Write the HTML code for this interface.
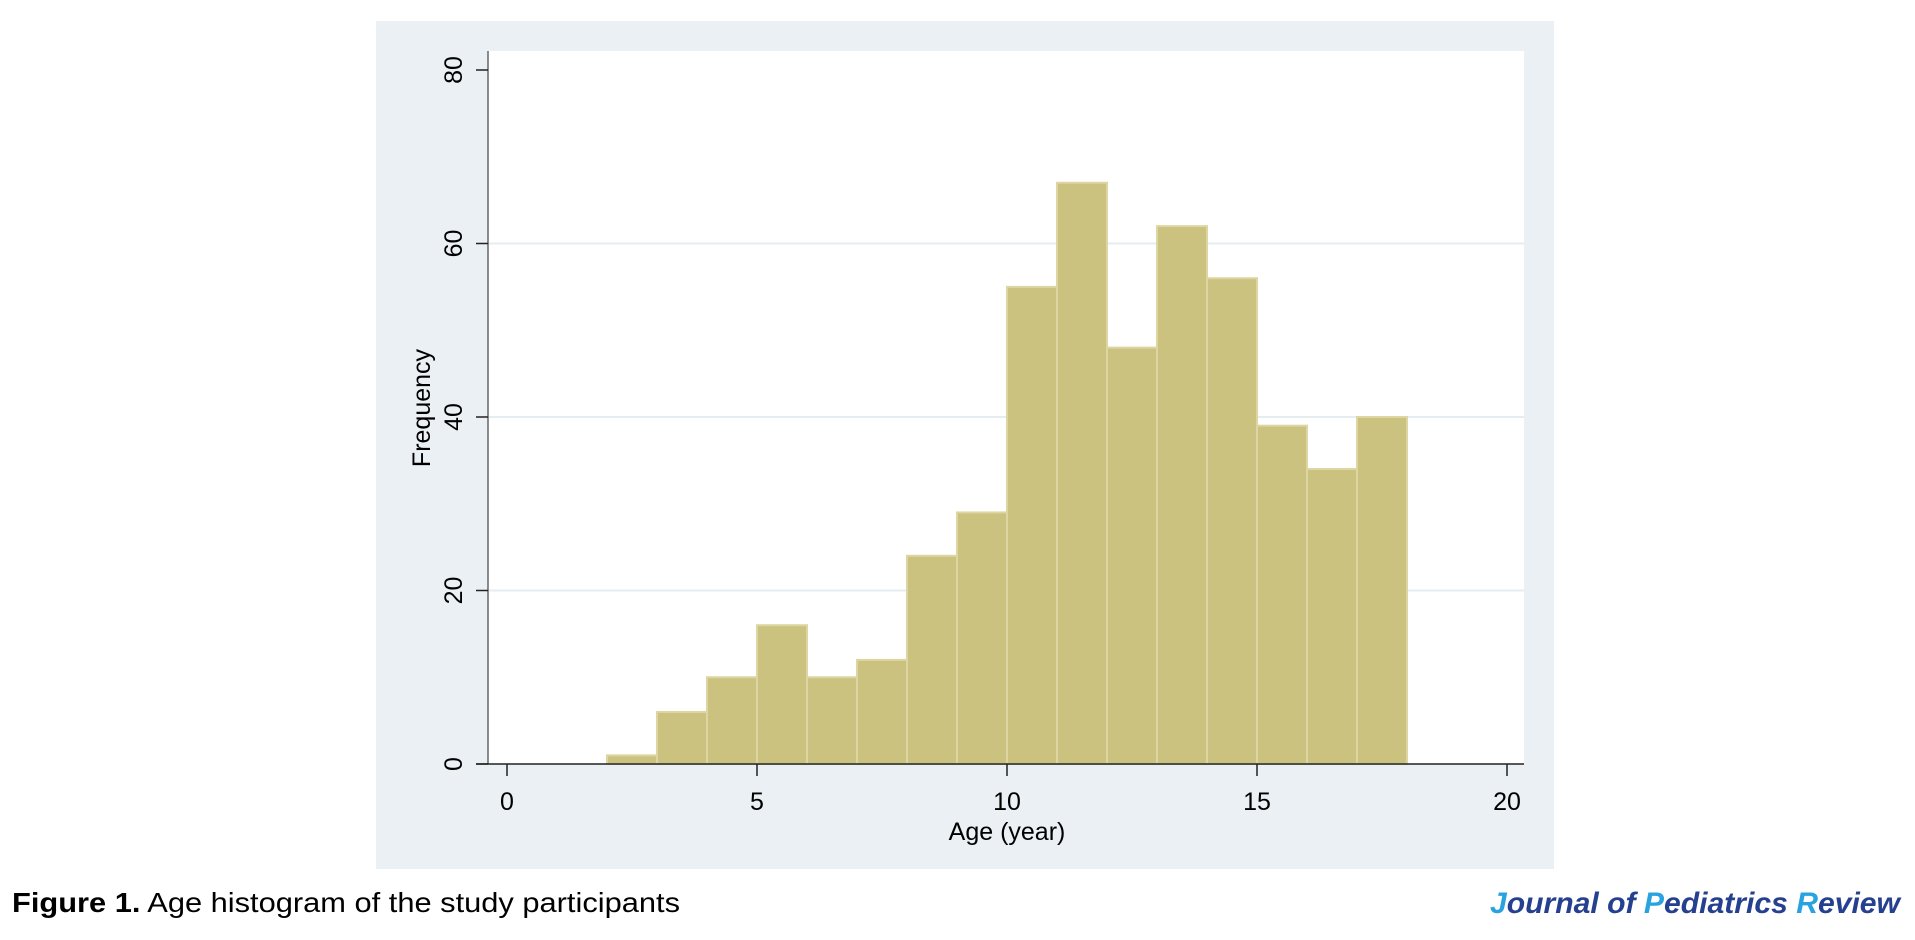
<!DOCTYPE html>
<html><head><meta charset="utf-8"><style>html,body{margin:0;padding:0;background:#fff;}svg{display:block;}</style></head>
<body>
<svg width="1915" height="940" xmlns="http://www.w3.org/2000/svg" font-family="Liberation Sans, Arial, sans-serif">
<rect x="376" y="21" width="1178" height="848" fill="#eaf0f3"/>
<rect x="488" y="51" width="1036" height="713" fill="#ffffff"/>
<g id="grid"></g>
<g id="bars"></g>
<line x1="488" y1="51" x2="488" y2="764" stroke="#666" stroke-width="1.5"/>
<line x1="476" y1="764" x2="1524" y2="764" stroke="#222" stroke-width="1.5"/>
<g id="yticks"></g>
<g id="xticks"></g>
<text x="0" y="0" transform="translate(430,408) rotate(-90)" text-anchor="middle" font-size="25" fill="#000">Frequency</text>
<text x="1007" y="840" text-anchor="middle" font-size="25" fill="#000">Age (year)</text>
<text x="12" y="912" font-size="28" fill="#000" textLength="668" lengthAdjust="spacingAndGlyphs"><tspan font-weight="bold">Figure 1.</tspan> Age histogram of the study participants</text>
<text x="1490" y="913" font-size="30" font-weight="bold" font-style="italic" fill="#25408f" textLength="410" lengthAdjust="spacingAndGlyphs"><tspan fill="#29a3e0">J</tspan>ournal of <tspan fill="#29a3e0">P</tspan>ediatrics <tspan fill="#29a3e0">R</tspan>eview</text>
</svg>
<script>
const binStarts=[2,3,4,5,6,7,8,9,10,11,12,13,14,15,16,17];
const frequencies=[1,6,10,16,10,12,24,29,55,67,48,62,56,39,34,40];
const binWidth=1;
const yTicks=[0,20,40,60,80];
const xTicks=[0,5,10,15,20];
const NS='http://www.w3.org/2000/svg';
function xs(v){return 507+v*50;}
function ys(v){return 764-v*(694/80);}
function mk(t,a){const e=document.createElementNS(NS,t);for(const k in a)e.setAttribute(k,a[k]);return e;}
const grid=document.getElementById('grid'),bars=document.getElementById('bars'),yt=document.getElementById('yticks'),xt=document.getElementById('xticks');
yTicks.forEach(v=>{
  if(v>0&&v<80){const g=mk('line',{x1:488,x2:1524,y1:ys(v),y2:ys(v),stroke:'#e4eef1','stroke-width':2});
  
  
  grid.appendChild(g);}
  const t=mk('line',{x1:476,x2:488,y1:ys(v),y2:ys(v),stroke:'#222','stroke-width':1.5});
  
  
  yt.appendChild(t);
  const l=mk('text',{transform:'translate(462,'+ys(v)+') rotate(-90)','text-anchor':'middle','font-size':25});
  l.textContent=v;
  
  
  yt.appendChild(l);
});
xTicks.forEach(v=>{
  const t=mk('line',{x1:xs(v),x2:xs(v),y1:764,y2:776,stroke:'#222','stroke-width':1.5});
  
  
  xt.appendChild(t);
  const l=mk('text',{x:xs(v),y:810,'text-anchor':'middle','font-size':25});
  l.textContent=v;
  
  
  xt.appendChild(l);
});
binStarts.forEach((b,i)=>{
  const x0=xs(b),x1=xs(b+binWidth),y=ys(frequencies[i]);
  const r=mk('rect',{x:x0,y:y,width:x1-x0,height:764-y,fill:'#cbc27f',stroke:'#ddd6a2','stroke-width':2});
  
  
  bars.appendChild(r);
});
</script>
</body></html>
